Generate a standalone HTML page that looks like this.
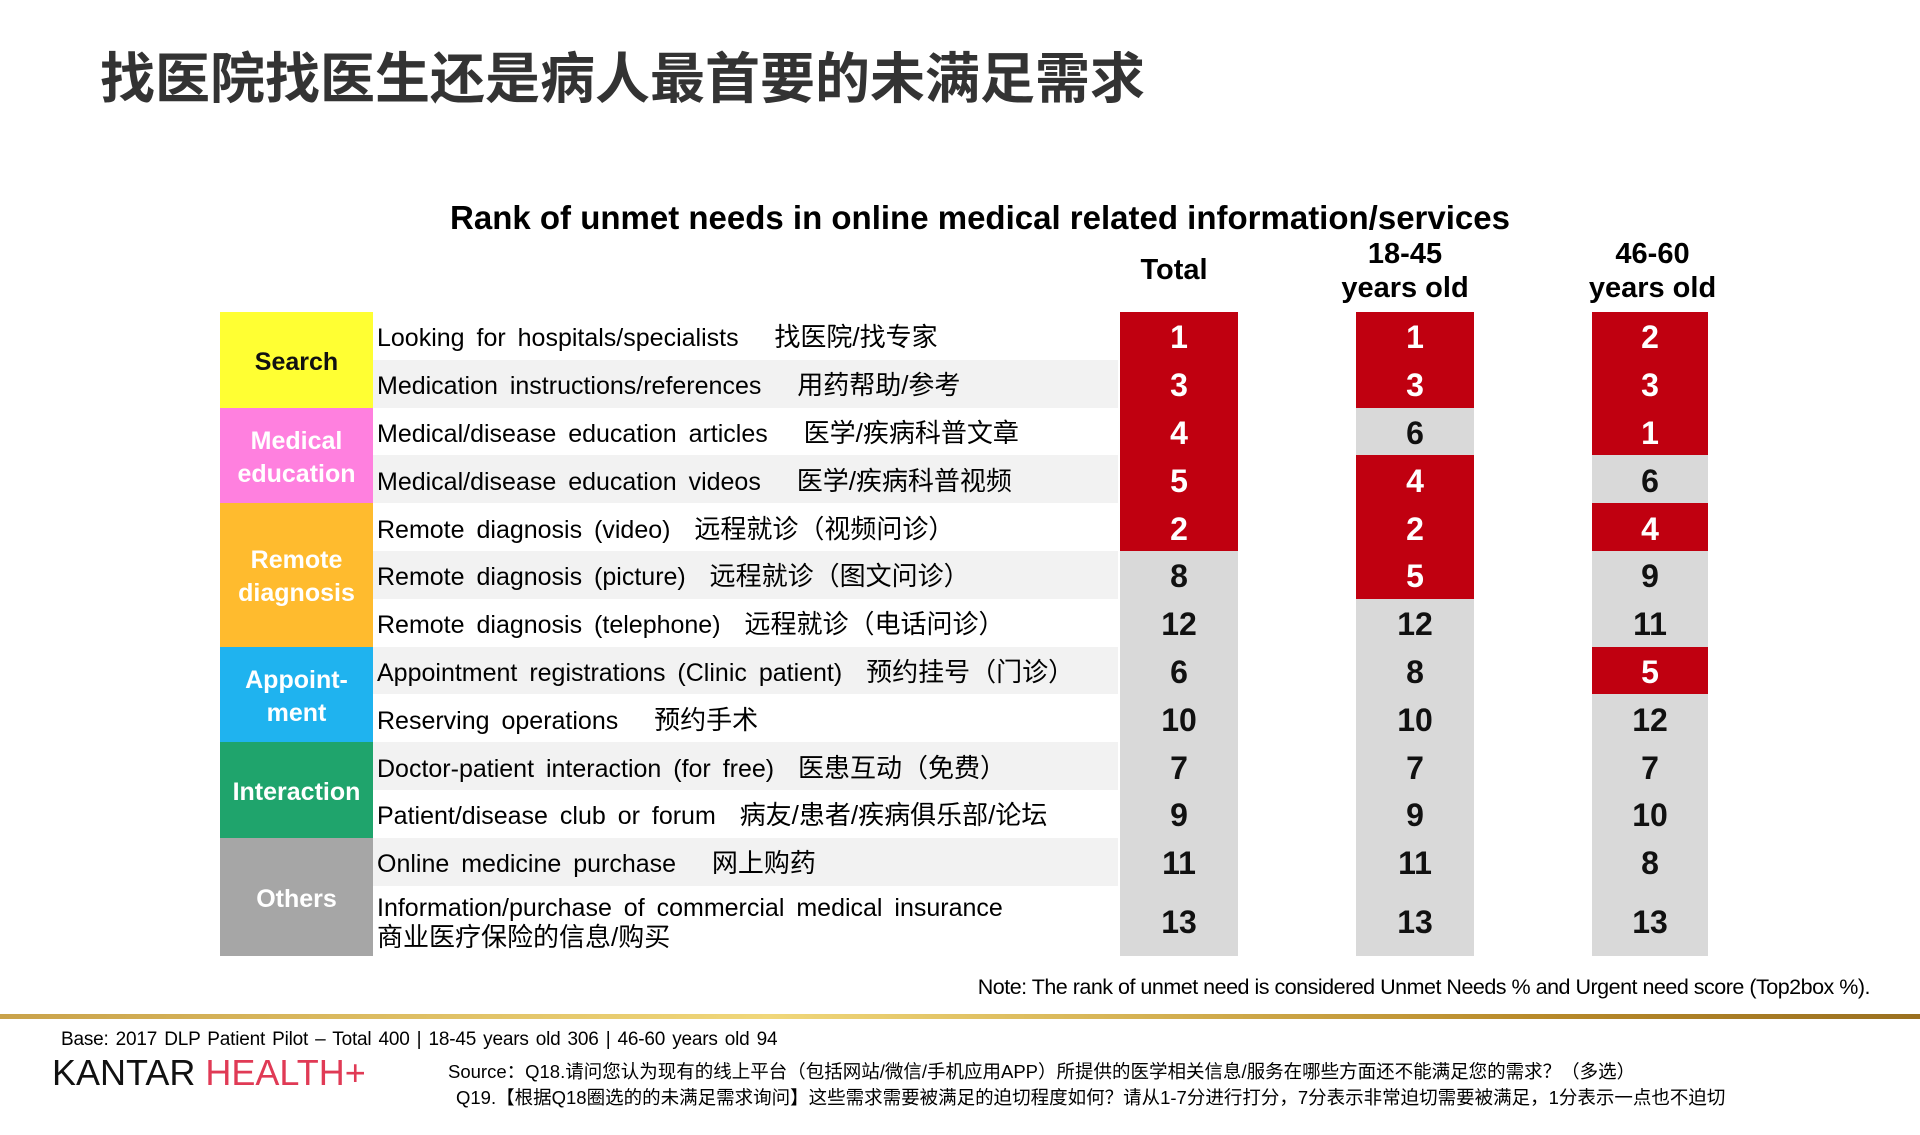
<!DOCTYPE html>
<html><head><meta charset="utf-8"><style>
body{margin:0;width:1920px;height:1135px;background:#fff;position:relative;overflow:hidden;font-family:"Liberation Sans","Noto Sans CJK SC",sans-serif;color:#000}
.a{position:absolute;white-space:nowrap}
.h{font-weight:bold;font-size:29px;text-align:center;line-height:34px}
.cat{position:absolute;left:220px;width:153px;display:flex;align-items:center;justify-content:center;text-align:center;font-weight:bold;font-size:25px;color:#fff;line-height:33px;padding-top:5px;box-sizing:border-box}
.row{position:absolute;left:373px;width:745px;font-size:25px;display:flex;align-items:center;padding-left:4px;padding-top:5px;box-sizing:border-box;word-spacing:5px}
.row .z{font-size:26px}
.n{position:absolute;display:flex;align-items:center;justify-content:center;font-weight:bold;font-size:32px;padding-top:4px;box-sizing:border-box}
.r{background:#c00010;color:#fff}.g{background:#d9d9d9;color:#111}
</style></head><body>
<div class="a" style="left:100px;top:34px;font-size:55px;font-weight:bold;color:#333">找医院找医生还是病人最首要的未满足需求</div>
<div class="a" style="left:0;width:1960px;top:199px;text-align:center;font-size:33px;font-weight:bold">Rank of unmet needs in online medical related information/services</div>
<div class="a h" style="left:1110px;width:128px;top:253px">Total</div>
<div class="a h" style="left:1340px;width:130px;top:237px">18-45<br>years old</div>
<div class="a h" style="left:1585px;width:135px;top:237px">46-60<br>years old</div>
<div id="t"></div>
<div class="a" style="right:50px;top:975px;font-size:21.5px;letter-spacing:-0.5px">Note: The rank of unmet need is considered Unmet Needs % and Urgent need score (Top2box %).</div>
<div class="a" style="left:0;top:1014px;width:1920px;height:5px;background:linear-gradient(90deg,#c9a24a,#f0d77a 40%,#b88a2a 80%,#9a7020)"></div>
<div class="a" style="left:61px;top:1029px;font-size:19px;letter-spacing:-0.2px;word-spacing:2px">Base: 2017 DLP Patient Pilot – Total 400 | 18-45 years old 306 | 46-60 years old 94</div>
<div class="a" style="left:52px;top:1052px;font-size:36px;letter-spacing:0px"><span style="color:#111">KANTAR</span> <span style="color:#e03a55">HEALTH+</span></div>
<div class="a" style="left:448px;top:1058px;font-size:18.5px">Source：Q18.请问您认为现有的线上平台（包括网站/微信/手机应用APP）所提供的医学相关信息/服务在哪些方面还不能满足您的需求？（多选）</div>
<div class="a" style="left:456px;top:1084px;font-size:18.5px">Q19.【根据Q18圈选的的未满足需求询问】这些需求需要被满足的迫切程度如何？请从1-7分进行打分，7分表示非常迫切需要被满足，1分表示一点也不迫切</div>
<script>
var L=["Looking for hospitals/specialists &nbsp;&nbsp;<span class=z>找医院/找专家</span>","Medication instructions/references &nbsp;&nbsp;<span class=z>用药帮助/参考</span>","Medical/disease education articles &nbsp;&nbsp;<span class=z>医学/疾病科普文章</span>","Medical/disease education videos &nbsp;&nbsp;<span class=z>医学/疾病科普视频</span>","Remote diagnosis (video) &nbsp;<span class=z>远程就诊（视频问诊）</span>","Remote diagnosis (picture) &nbsp;<span class=z>远程就诊（图文问诊）</span>","Remote diagnosis (telephone) &nbsp;<span class=z>远程就诊（电话问诊）</span>","Appointment registrations (Clinic patient) &nbsp;<span class=z>预约挂号（门诊）</span>","Reserving operations &nbsp;&nbsp;<span class=z>预约手术</span>","Doctor-patient interaction (for free) &nbsp;<span class=z>医患互动（免费）</span>","Patient/disease club or forum &nbsp;<span class=z>病友/患者/疾病俱乐部/论坛</span>","Online medicine purchase &nbsp;&nbsp;<span class=z>网上购药</span>","Information/purchase of commercial medical insurance<br><span class=z>商业医疗保险的信息/购买</span>"];
var C=[[1,3,4,5,2,8,12,6,10,7,9,11,13],[1,3,6,4,2,5,12,8,10,7,9,11,13],[2,3,1,6,4,9,11,5,12,7,10,8,13]];
var R=[[0,1,2,3,4],[0,1,3,4,5],[0,1,2,4,7]];
var X=[[1120,118],[1356,118],[1592,116]];
var cats=[["Search",0,2,"#ffff33","#111"],["Medical<br>education",2,2,"#ff80df","#fff"],["Remote<br>diagnosis",4,3,"#ffbb2e","#fff"],["Appoint-<br>ment",7,2,"#1fb3ef","#fff"],["Interaction",9,2,"#1fa46c","#fff"],["Others",11,2,"#a6a6a6","#fff"]];
var top0=312,h=47.8,s="";
function y(i){return top0+i*h}
function hh(i){return i==12?70:h}
for(var i=0;i<13;i++){
 s+='<div class="row" style="top:'+y(i)+'px;height:'+hh(i)+'px;background:'+(i%2?'#f2f2f2':'#fff')+';line-height:29px">'+'<span>'+L[i]+'</span></div>';
 for(var c=0;c<3;c++){var red=R[c].indexOf(i)>=0;
  s+='<div class="n '+(red?'r':'g')+'" style="left:'+X[c][0]+'px;width:'+X[c][1]+'px;top:'+y(i)+'px;height:'+hh(i)+'px">'+C[c][i]+'</div>';}
}
cats.forEach(function(k){var t=y(k[1]),b=k[1]+k[2]==13?y(12)+70:y(k[1]+k[2]);
 s+='<div class="cat" style="top:'+t+'px;height:'+(b-t)+'px;background:'+k[3]+';color:'+k[4]+'">'+k[0]+'</div>';});
document.getElementById('t').innerHTML=s;
</script>
</body></html>
